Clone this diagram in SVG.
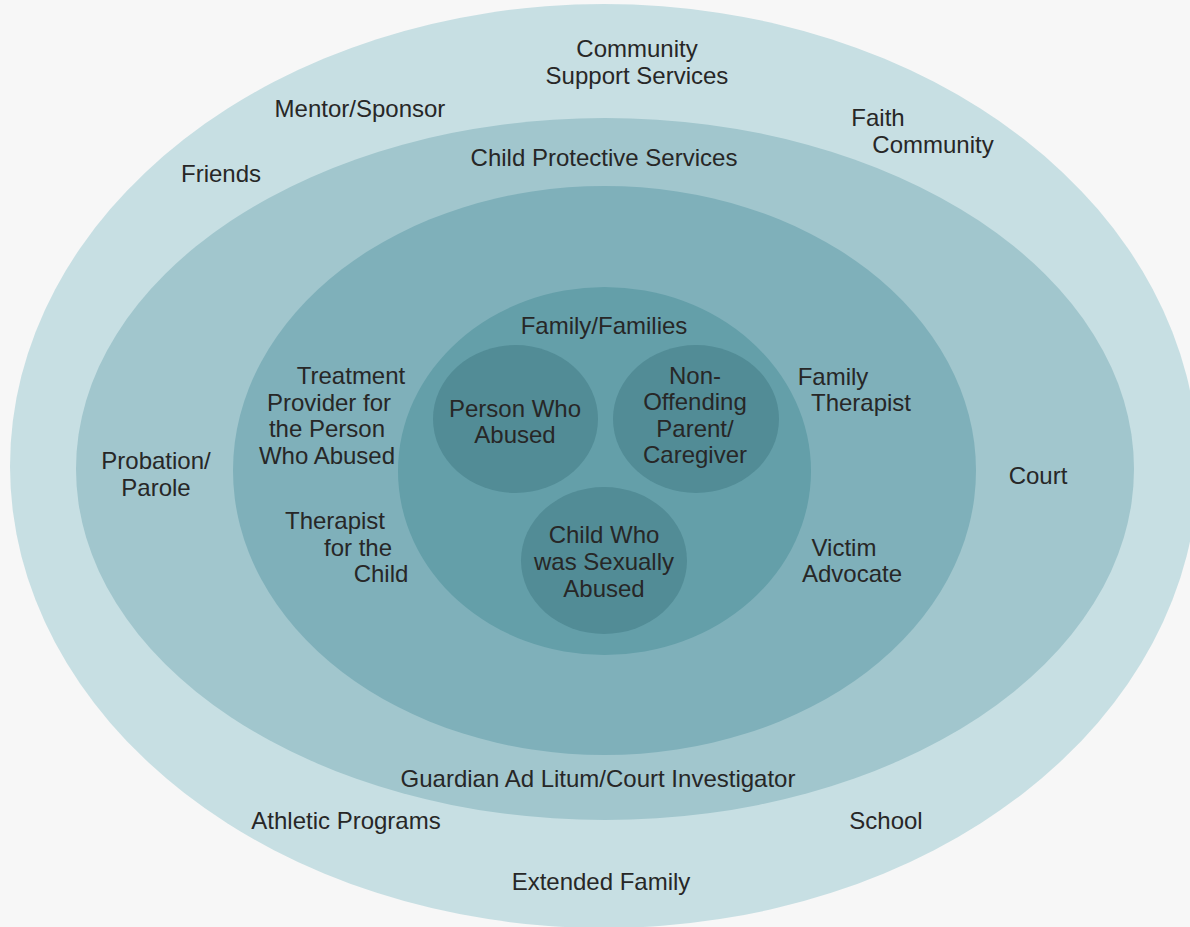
<svg xmlns="http://www.w3.org/2000/svg" width="1190" height="927" viewBox="0 0 1190 927">
<style>
text{font-family:"Liberation Sans",Arial,sans-serif;font-size:24px;fill:#272727;text-anchor:middle}
.r1{fill:#c7dfe3}.r2{fill:#a1c6cd}.r3{fill:#7fb0ba}.r4{fill:#649fa9}.r5{fill:#528c96}
</style>
<rect width="1190" height="927" fill="#f7f7f7"/>
<g id="ring-community">
<ellipse class="r1" cx="604" cy="466" rx="594" ry="462"/>
<text x="637" y="57">Community</text><text x="637" y="84">Support Services</text>
<text x="360" y="117">Mentor/Sponsor</text>
<text x="221" y="182">Friends</text>
<text x="878" y="126">Faith</text><text x="933" y="153">Community</text>
<text x="346" y="829">Athletic Programs</text>
<text x="886" y="829">School</text>
<text x="601" y="890">Extended Family</text>
</g>
<g id="ring-legal">
<ellipse class="r2" cx="605" cy="469" rx="529" ry="351"/>
<text x="604" y="166">Child Protective Services</text>
<text x="156" y="469">Probation/</text><text x="156" y="496">Parole</text>
<text x="1038" y="484">Court</text>
<text x="598" y="787">Guardian Ad Litum/Court Investigator</text>
</g>
<g id="ring-treatment">
<ellipse class="r3" cx="604.5" cy="470.5" rx="371.5" ry="284.5"/>
<text x="351" y="384">Treatment</text><text x="329" y="411">Provider for</text><text x="327" y="437">the Person</text><text x="327" y="464">Who Abused</text>
<text x="335" y="529">Therapist</text><text x="358" y="556">for the</text><text x="381" y="582">Child</text>
<text x="833" y="385">Family</text><text x="861" y="411">Therapist</text>
<text x="844" y="556">Victim</text><text x="852" y="582">Advocate</text>
</g>
<g id="family">
<ellipse class="r4" cx="604.5" cy="471" rx="206.5" ry="184"/>
<text x="604" y="334">Family/Families</text>
</g>
<g id="person-who-abused">
<ellipse class="r5" cx="515.5" cy="419" rx="82.5" ry="74"/>
<text x="515" y="417">Person Who</text><text x="515" y="443">Abused</text>
</g>
<g id="non-offending-parent">
<ellipse class="r5" cx="696" cy="419" rx="83" ry="74"/>
<text x="695" y="384">Non-</text><text x="695" y="410">Offending</text><text x="695" y="437">Parent/</text><text x="695" y="463">Caregiver</text>
</g>
<g id="child">
<ellipse class="r5" cx="604" cy="560.5" rx="83" ry="73.5"/>
<text x="604" y="543">Child Who</text><text x="604" y="570">was Sexually</text><text x="604" y="597">Abused</text>
</g>
<g id="connectors"/>
</svg>
